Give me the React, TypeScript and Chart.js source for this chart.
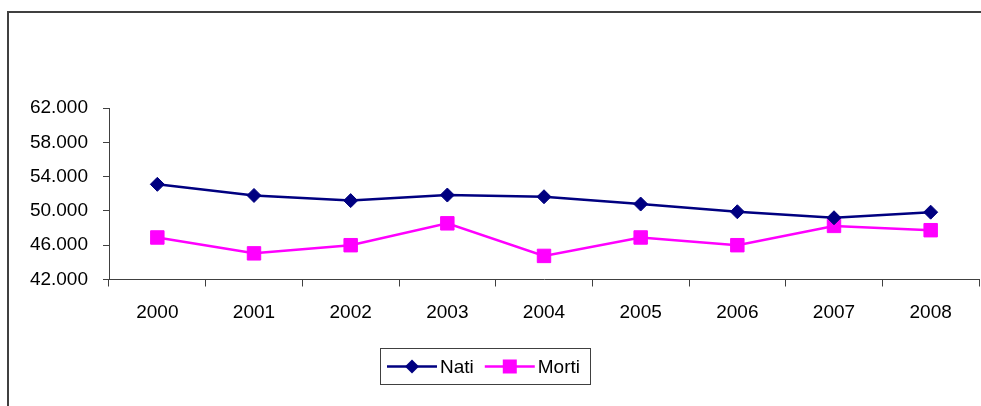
import React, { useEffect, useRef } from "react";
import { Chart, registerables } from "chart.js";

Chart.register(...registerables);

const categories = ["2000", "2001", "2002", "2003", "2004", "2005", "2006", "2007", "2008"];
const natiValues = [53100, 51800, 51200, 51850, 51650, 50800, 49900, 49200, 49850];
const mortiValues = [46900, 45050, 46000, 48550, 44750, 46900, 46000, 48250, 47750];
const seriesNames = ["Nati", "Morti"];
const yMin = 42000;
const yMax = 62000;
const yStep = 4000;

const FONT = '"Liberation Sans", Arial, sans-serif';
const AXIS = "#404040";

function fmt(v: number): string {
  const s = Math.round(v).toString();
  return s.replace(/\B(?=(\d{3})+(?!\d))/g, ".");
}

const framePlugin = {
  id: "frame",
  beforeDraw(chart: any) {
    const ctx = chart.ctx;
    ctx.save();
    ctx.fillStyle = "#ffffff";
    ctx.fillRect(0, 0, chart.width, chart.height);
    ctx.fillStyle = AXIS;
    ctx.fillRect(7, 11, chart.width - 7, 2);
    ctx.fillRect(7, 11, 2, chart.height - 11);
    ctx.restore();
  },
};

const legendPlugin = {
  id: "boxLegend",
  afterDraw(chart: any) {
    const ctx = chart.ctx;
    ctx.save();
    ctx.font = `19px ${FONT}`;
    const boxX = 380.5;
    const boxY = 348.5;
    const boxW = 210;
    const boxH = 36;
    ctx.strokeStyle = AXIS;
    ctx.lineWidth = 1;
    ctx.strokeRect(boxX, boxY, boxW, boxH);
    const cy = boxY + boxH / 2;
    let x = boxX + 6.5;
    chart.data.datasets.forEach((ds: any) => {
      ctx.strokeStyle = ds.borderColor;
      ctx.lineWidth = 2.5;
      ctx.beginPath();
      ctx.moveTo(x, cy);
      ctx.lineTo(x + 50, cy);
      ctx.stroke();
      ctx.fillStyle = ds.backgroundColor;
      ctx.beginPath();
      if (ds.pointStyle === "rectRot") {
        const r = 7;
        const mx = x + 25;
        ctx.moveTo(mx, cy - r);
        ctx.lineTo(mx + r, cy);
        ctx.lineTo(mx, cy + r);
        ctx.lineTo(mx - r, cy);
        ctx.closePath();
      } else {
        const h = 7;
        ctx.rect(x + 25 - h, cy - h, 2 * h, 2 * h);
      }
      ctx.fill();
      ctx.fillStyle = "#000000";
      ctx.textBaseline = "middle";
      ctx.textAlign = "left";
      ctx.fillText(ds.label, x + 53, cy + 1);
      x += 53 + ctx.measureText(ds.label).width + 11;
    });
    ctx.restore();
  },
};

export default function App() {
  const ref = useRef<HTMLCanvasElement | null>(null);

  useEffect(() => {
    if (!ref.current) return;
    const chart = new Chart(ref.current, {
      type: "line",
      data: {
        labels: categories,
        datasets: [
          {
            label: seriesNames[0],
            data: natiValues,
            borderColor: "#000080",
            backgroundColor: "#000080",
            borderWidth: 2.5,
            pointStyle: "rectRot",
            pointRadius: 7,
            pointBorderWidth: 1,
            pointBackgroundColor: "#000080",
            pointBorderColor: "#000080",
            tension: 0,
          },
          {
            label: seriesNames[1],
            data: mortiValues,
            borderColor: "#FF00FF",
            backgroundColor: "#FF00FF",
            borderWidth: 2.5,
            pointStyle: "rect",
            pointRadius: 9.5,
            pointBorderWidth: 1,
            pointBackgroundColor: "#FF00FF",
            pointBorderColor: "#FF00FF",
            tension: 0,
          },
        ],
      },
      options: {
        animation: false,
        responsive: true,
        maintainAspectRatio: false,
        layout: { autoPadding: false, padding: { left: 0, top: 108, right: 2, bottom: 0 } },
        plugins: {
          legend: { display: false },
          tooltip: { enabled: false },
          title: { display: false },
        },
        scales: {
          x: {
            type: "category",
            offset: true,
            afterFit: (scale: any) => {
              scale.height = 126.5;
              scale.paddingLeft = 0;
              scale.paddingRight = 0;
            },
            grid: {
              offset: true,
              drawOnChartArea: false,
              drawTicks: true,
              tickLength: 7,
              color: AXIS,
            },
            border: { display: true, color: AXIS, width: 1 },
            ticks: {
              color: "#000000",
              font: { family: FONT, size: 19 },
              padding: 15,
              maxRotation: 0,
            },
          },
          y: {
            min: yMin,
            max: yMax,
            afterFit: (scale: any) => {
              scale.width = 109;
              scale.paddingTop = 0;
              scale.paddingBottom = 0;
            },
            grid: {
              drawOnChartArea: false,
              drawTicks: true,
              tickLength: 6,
              color: AXIS,
            },
            border: { display: true, color: AXIS, width: 1 },
            ticks: {
              stepSize: yStep,
              color: "#000000",
              font: { family: FONT, size: 19 },
              padding: 15,
              callback: (v: any) => fmt(Number(v)),
            },
          },
        },
      },
      plugins: [framePlugin, legendPlugin],
    });
    return () => chart.destroy();
  }, []);

  return (
    <div style={{ position: "fixed", left: 0, top: 0, width: 981, height: 406, background: "#fff" }}>
      <canvas ref={ref} />
    </div>
  );
}
